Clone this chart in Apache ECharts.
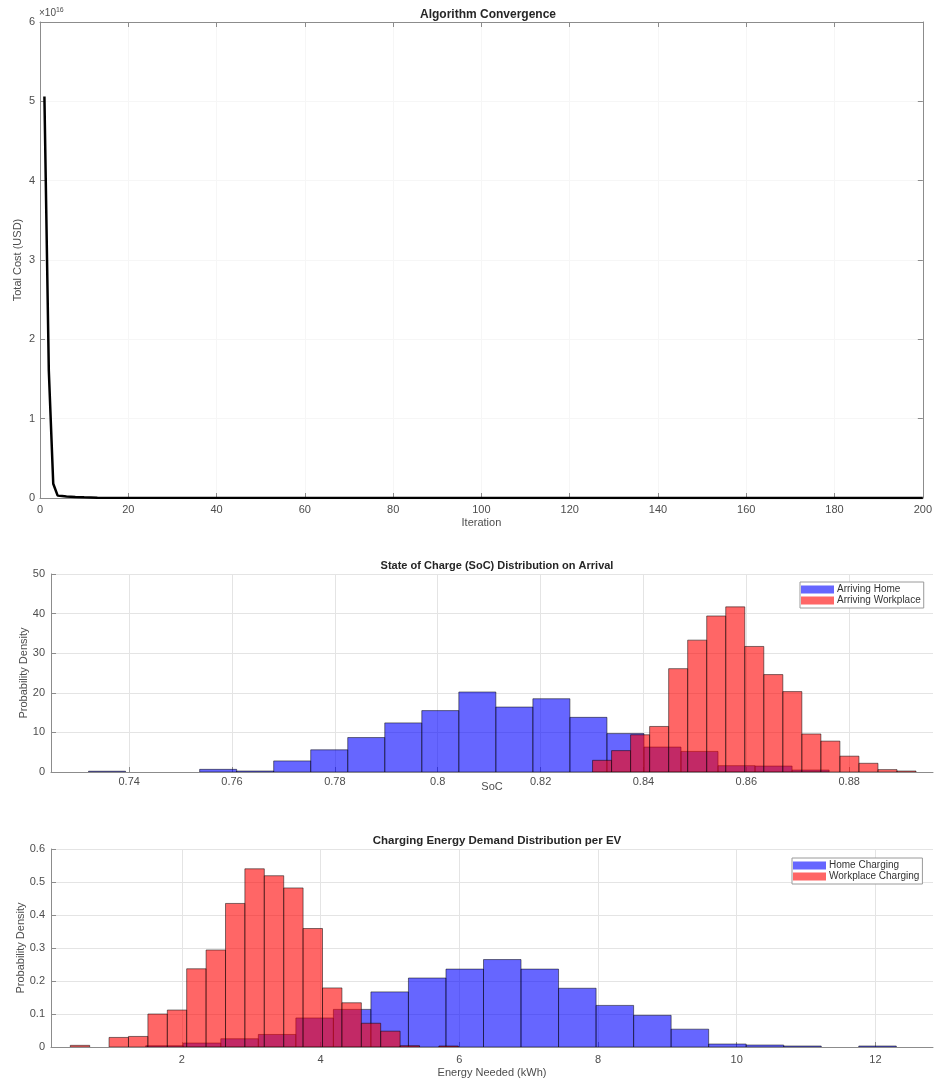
<!DOCTYPE html>
<html>
<head>
<meta charset="utf-8">
<script src="https://cdn.jsdelivr.net/npm/echarts@6/dist/echarts.min.js"></script>
<style>
  html, body { margin: 0; padding: 0; background: #fff; }
  #chart { width: 935px; height: 1081px; }
</style>
</head>
<body>
<div id="chart"></div>
<script>
// ---------- Data ----------
// Algorithm convergence
const convIter = [1, 2, 3, 4, 5, 6, 8, 10, 13, 200];
const convCost = [5.06e16, 1.6e16, 0.18e16, 0.03e16, 0.025e16, 0.02e16, 0.012e16, 0.008e16, 0.003e16, 0];
const convXTicks = [0, 20, 40, 60, 80, 100, 120, 140, 160, 180, 200];

// SoC on arrival - Arriving Home (bin edges and densities)
const socHomeEdges = [0.7321, 0.7393, 0.7465, 0.7537, 0.7609, 0.7681, 0.7753, 0.7825, 0.7897, 0.7969, 0.8041,
                      0.8113, 0.8185, 0.8257, 0.8329, 0.8401, 0.8473, 0.8545, 0.8617, 0.8689, 0.8761];
const socHomeDensity = [0.2, 0, 0, 0.67, 0.25, 2.8, 5.6, 8.7, 12.4, 15.5, 20.2,
                        16.4, 18.5, 13.8, 9.7, 6.3, 5.2, 1.6, 1.5, 0.5];
// SoC on arrival - Arriving Workplace
const socWorkEdges = [0.8301, 0.8338, 0.8375, 0.8412, 0.8449, 0.8486, 0.8523, 0.8560, 0.8597,
                      0.8634, 0.8671, 0.8708, 0.8745, 0.8782, 0.8819, 0.8856, 0.8893, 0.8930];
const socWorkDensity = [2.95, 5.4, 9.4, 11.5, 26.1, 33.3, 39.4, 41.7, 31.7,
                        24.6, 20.3, 9.6, 7.8, 4.0, 2.2, 0.6, 0.25];
const socTicks = [0.74, 0.76, 0.78, 0.80, 0.82, 0.84, 0.86, 0.88];

// Charging energy demand - Home Charging
const enHomeEdges = [1.481, 2.022, 2.563, 3.104, 3.645, 4.186, 4.727, 5.268, 5.809, 6.350, 6.891,
                     7.432, 7.973, 8.514, 9.055, 9.596, 10.137, 10.678, 11.219, 11.760, 12.301];
const enHomeDensity = [0.004, 0.012, 0.025, 0.038, 0.088, 0.114, 0.167, 0.209, 0.236, 0.265,
                       0.236, 0.178, 0.126, 0.096, 0.054, 0.009, 0.006, 0.003, 0, 0.003];
// Charging energy demand - Workplace Charging
const enWorkEdges = [0.393, 0.673, 0.952, 1.232, 1.512, 1.792, 2.071, 2.351, 2.631, 2.910, 3.190,
                     3.470, 3.749, 4.029, 4.309, 4.589, 4.868, 5.148, 5.428, 5.707, 5.987];
const enWorkDensity = [0.005, 0, 0.029, 0.032, 0.100, 0.112, 0.237, 0.294, 0.435, 0.540,
                       0.519, 0.482, 0.359, 0.179, 0.134, 0.072, 0.048, 0.004, 0, 0.003];
const enTicks = [2, 4, 6, 8, 10, 12];

// ---------- Helpers ----------
function binsOf(edges, dens) {
  return dens.map((d, i) => [edges[i], edges[i + 1], d]);
}
function histItem(params, api) {
  const x0 = api.value(0), x1 = api.value(1), h = api.value(2);
  if (!(h > 0)) return null;
  const p0 = api.coord([x0, h]);
  const p1 = api.coord([x1, 0]);
  return {
    type: 'rect',
    shape: { x: p0[0], y: p0[1], width: p1[0] - p0[0], height: p1[1] - p0[1] },
    style: api.style({ stroke: 'rgba(0,0,0,0.5)', lineWidth: 1 })
  };
}

const FONT = 'Liberation Sans, Arial, Helvetica, sans-serif';
const AX = '#8c8c8c';
const LBL = '#4d4d4d';
const BLUE = 'rgba(0,0,255,0.6)';
const RED = 'rgba(255,0,0,0.6)';

function fmtNum(v) { return String(+(+v).toFixed(4)); }

const chart = echarts.init(document.getElementById('chart'), null, { renderer: 'canvas' });

const option = {
  animation: false,
  backgroundColor: '#ffffff',
  textStyle: { fontFamily: FONT },
  title: [
    { text: 'Algorithm Convergence', left: 483, top: 4, textAlign: 'center',
      textStyle: { fontSize: 12, fontWeight: 'bold', color: '#262626', fontFamily: FONT } },
    { text: 'State of Charge (SoC) Distribution on Arrival', left: 492, top: 555, textAlign: 'center',
      textStyle: { fontSize: 11, fontWeight: 'bold', color: '#262626', fontFamily: FONT } },
    { text: 'Charging Energy Demand Distribution per EV', left: 492, top: 830, textAlign: 'center',
      textStyle: { fontSize: 11.5, fontWeight: 'bold', color: '#262626', fontFamily: FONT } }
  ],
  graphic: [
    { type: 'text', left: 39, top: 7,
      style: { text: '×10{s|16}', fill: '#4d4d4d', font: '10px ' + FONT,
               rich: { s: { fontSize: 7, verticalAlign: 'top', padding: [0, 0, 6, 0], fill: '#4d4d4d' } } } }
  ],
  legend: [
    { data: ['Arriving Home', 'Arriving Workplace'], left: 800, top: 582, orient: 'vertical',
      itemWidth: 33, itemHeight: 8, itemGap: 0, icon: 'rect',
      borderColor: '#9a9a9a', borderWidth: 1, padding: [2, 3, 2, 1], backgroundColor: '#fff',
      textStyle: { fontSize: 10, color: '#333', lineHeight: 11, padding: [0, 0, 0, -2], fontFamily: FONT } },
    { data: ['Home Charging', 'Workplace Charging'], left: 792, top: 858, orient: 'vertical',
      itemWidth: 33, itemHeight: 8, itemGap: 0, icon: 'rect',
      borderColor: '#9a9a9a', borderWidth: 1, padding: [2, 3, 2, 1], backgroundColor: '#fff',
      textStyle: { fontSize: 10, color: '#333', lineHeight: 11, padding: [0, 0, 0, -2], fontFamily: FONT } }
  ],
  grid: [
    { left: 40, top: 22, width: 886, height: 476 },
    { left: 51, top: 574, width: 882, height: 198 },
    { left: 51, top: 849, width: 882, height: 198 }
  ],
  xAxis: [
    { type: 'value', gridIndex: 0, min: 0, max: 200, interval: 20, position: 'bottom',
      name: 'Iteration', nameLocation: 'middle', nameGap: 19, nameMoveOverlap: false,
      nameTextStyle: { fontSize: 11, color: LBL },
      axisLine: { show: true, onZero: false, lineStyle: { color: AX } },
      axisTick: { show: true, inside: true, length: 5, lineStyle: { color: AX } },
      axisLabel: { fontSize: 11, color: LBL, margin: 6 },
      splitLine: { show: true, lineStyle: { color: '#f6f6f6' } } },
    { type: 'value', gridIndex: 0, min: 0, max: 200, interval: 20, position: 'top',
      axisLine: { show: true, onZero: false, lineStyle: { color: AX } },
      axisTick: { show: true, inside: true, length: 5, lineStyle: { color: AX } },
      axisLabel: { show: false }, splitLine: { show: false } },
    { type: 'value', gridIndex: 1, min: 0.7248, max: 0.8963,
      name: 'SoC', nameLocation: 'middle', nameGap: 9, nameMoveOverlap: false,
      nameTextStyle: { fontSize: 11, color: LBL },
      axisLine: { show: true, onZero: false, lineStyle: { color: AX } },
      axisTick: { show: true, inside: true, length: 5, customValues: socTicks, lineStyle: { color: AX } },
      axisLabel: { fontSize: 11, color: LBL, margin: 4, customValues: socTicks, formatter: fmtNum },
      splitLine: { show: true, lineStyle: { color: '#e4e4e4' } } },
    { type: 'value', gridIndex: 2, min: 0.115, max: 12.83,
      name: 'Energy Needed (kWh)', nameLocation: 'middle', nameGap: 20, nameMoveOverlap: false,
      nameTextStyle: { fontSize: 11, color: LBL },
      axisLine: { show: true, onZero: false, lineStyle: { color: AX } },
      axisTick: { show: true, inside: true, length: 5, customValues: enTicks, lineStyle: { color: AX } },
      axisLabel: { fontSize: 11, color: LBL, margin: 7, customValues: enTicks, formatter: fmtNum },
      splitLine: { show: true, lineStyle: { color: '#e4e4e4' } } }
  ],
  yAxis: [
    { type: 'value', gridIndex: 0, min: 0, max: 6e16, interval: 1e16, position: 'left',
      name: 'Total Cost (USD)', nameLocation: 'middle', nameGap: 17, nameRotate: 90, nameMoveOverlap: false,
      nameTextStyle: { fontSize: 11, color: LBL },
      axisLine: { show: true, onZero: false, lineStyle: { color: AX } },
      axisTick: { show: true, inside: true, length: 5, lineStyle: { color: AX } },
      axisLabel: { fontSize: 11, color: LBL, margin: 5, formatter: v => String(Math.round(v / 1e16)) },
      splitLine: { show: true, lineStyle: { color: '#f6f6f6' } } },
    { type: 'value', gridIndex: 0, min: 0, max: 6e16, interval: 1e16, position: 'right',
      axisLine: { show: true, onZero: false, lineStyle: { color: AX } },
      axisTick: { show: true, inside: true, length: 5, lineStyle: { color: AX } },
      axisLabel: { show: false }, splitLine: { show: false } },
    { type: 'value', gridIndex: 1, min: 0, max: 50, interval: 10,
      name: 'Probability Density', nameLocation: 'middle', nameGap: 22, nameRotate: 90, nameMoveOverlap: false,
      nameTextStyle: { fontSize: 11, color: LBL },
      axisLine: { show: true, onZero: false, lineStyle: { color: AX } },
      axisTick: { show: true, inside: true, length: 5, lineStyle: { color: AX } },
      axisLabel: { fontSize: 11, color: LBL, margin: 6 },
      splitLine: { show: true, lineStyle: { color: '#e4e4e4' } } },
    { type: 'value', gridIndex: 2, min: 0, max: 0.6, interval: 0.1,
      name: 'Probability Density', nameLocation: 'middle', nameGap: 25, nameRotate: 90, nameMoveOverlap: false,
      nameTextStyle: { fontSize: 11, color: LBL },
      axisLine: { show: true, onZero: false, lineStyle: { color: AX } },
      axisTick: { show: true, inside: true, length: 5, lineStyle: { color: AX } },
      axisLabel: { fontSize: 11, color: LBL, margin: 6, formatter: fmtNum },
      splitLine: { show: true, lineStyle: { color: '#e4e4e4' } } }
  ],
  series: [
    { type: 'line', name: 'Total Cost', xAxisIndex: 0, yAxisIndex: 0,
      data: convIter.map((it, i) => [it, convCost[i]]),
      showSymbol: false, symbol: 'none', smooth: false,
      lineStyle: { color: '#000', width: 2.5 }, itemStyle: { color: '#000' } },
    { type: 'custom', name: 'Arriving Home', xAxisIndex: 2, yAxisIndex: 2,
      renderItem: histItem, data: binsOf(socHomeEdges, socHomeDensity),
      itemStyle: { color: BLUE }, encode: { x: [0, 1], y: 2 }, clip: true },
    { type: 'custom', name: 'Arriving Workplace', xAxisIndex: 2, yAxisIndex: 2,
      renderItem: histItem, data: binsOf(socWorkEdges, socWorkDensity),
      itemStyle: { color: RED }, encode: { x: [0, 1], y: 2 }, clip: true },
    { type: 'custom', name: 'Home Charging', xAxisIndex: 3, yAxisIndex: 3,
      renderItem: histItem, data: binsOf(enHomeEdges, enHomeDensity),
      itemStyle: { color: BLUE }, encode: { x: [0, 1], y: 2 }, clip: true },
    { type: 'custom', name: 'Workplace Charging', xAxisIndex: 3, yAxisIndex: 3,
      renderItem: histItem, data: binsOf(enWorkEdges, enWorkDensity),
      itemStyle: { color: RED }, encode: { x: [0, 1], y: 2 }, clip: true }
  ]
};

chart.setOption(option);
</script>
</body>
</html>
